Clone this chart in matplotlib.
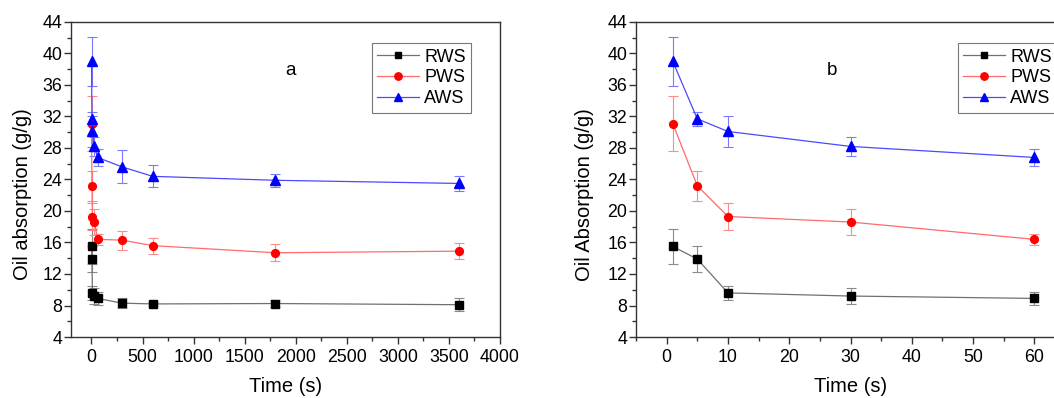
import matplotlib
matplotlib.use("Agg")
import matplotlib.pyplot as plt
from matplotlib.ticker import MultipleLocator
from matplotlib.lines import Line2D

plt.rcParams['font.family'] = ['Liberation Sans', 'DejaVu Sans']

# Data
time_a = [1, 5, 10, 30, 60, 300, 600, 1800, 3600]
rws_a = [15.5, 13.9, 9.6, 9.2, 8.9, 8.3, 8.2, 8.25, 8.1]
rws_a_err = [2.2, 1.7, 0.9, 1.0, 0.8, 0.6, 0.3, 0.5, 0.8]
pws_a = [31.1, 23.2, 19.3, 18.6, 16.4, 16.3, 15.6, 14.7, 14.9]
pws_a_err = [3.5, 1.9, 1.7, 1.6, 0.7, 1.2, 1.0, 1.1, 1.0]
aws_a = [39.0, 31.7, 30.1, 28.2, 26.8, 25.6, 24.4, 23.9, 23.5]
aws_a_err = [3.1, 0.9, 2.0, 1.2, 1.1, 2.1, 1.4, 0.8, 0.9]

time_b = [1, 5, 10, 30, 60]
rws_b = [15.5, 13.9, 9.6, 9.2, 8.9]
rws_b_err = [2.2, 1.7, 0.9, 1.0, 0.8]
pws_b = [31.1, 23.2, 19.3, 18.6, 16.4]
pws_b_err = [3.5, 1.9, 1.7, 1.6, 0.7]
aws_b = [39.0, 31.7, 30.1, 28.2, 26.8]
aws_b_err = [3.1, 0.9, 2.0, 1.2, 1.1]

series_names = ["RWS", "PWS", "AWS"]
marker_colors = ["#000000", "#ff0000", "#0000ff"]
line_colors = ["#707070", "#ff6a6a", "#4a4aff"]
err_colors = ["#8a8a8a", "#ff8a8a", "#7a7aff"]
markers = ["s", "o", "^"]
msizes = [5.3, 5.6, 6.5]

W, H = 1054, 398
fig = plt.figure(figsize=(W / 100, H / 100), dpi=100)

bottom = (H - 337) / H
height = 315 / H
ax1 = fig.add_axes([71 / W, bottom, 429 / W, height])
ax2 = fig.add_axes([636 / W, bottom, 429 / W, height])

TFS = 12.8
LFS = 14.5

def draw(ax, t, ys, errs, xlim, xmaj, xmin, ylabel, letter, letter_x, leg_x, ylab_x):
    for name, y, e, mc, lc, ec, m, ms in zip(series_names, ys, errs, marker_colors,
                                             line_colors, err_colors, markers, msizes):
        ax.errorbar(t, y, yerr=e, color=lc, ecolor=ec, elinewidth=0.8, capsize=3.8,
                    capthick=0.8, linewidth=0.9, marker=m, markersize=ms,
                    markerfacecolor=mc, markeredgecolor=mc)
    ax.set_xlim(*xlim)
    ax.set_ylim(4, 44)
    ax.xaxis.set_major_locator(MultipleLocator(xmaj))
    ax.xaxis.set_minor_locator(MultipleLocator(xmin))
    ax.yaxis.set_major_locator(MultipleLocator(4))
    ax.yaxis.set_minor_locator(MultipleLocator(2))
    ax.tick_params(which='both', direction='out', top=False, right=False,
                   labelsize=TFS, color='#333333')
    ax.tick_params(which='major', length=4.8, width=1)
    ax.tick_params(which='minor', length=3, width=1)
    ax.tick_params(axis='y', which='major', pad=1.5)
    ax.tick_params(axis='x', which='major', pad=3.5)
    for s in ax.spines.values():
        s.set_color('#333333')
        s.set_linewidth(1.0)
    ax.set_xlabel("Time (s)", fontsize=LFS)
    ax.xaxis.label.set_va('center')
    ax.xaxis.set_label_coords(0.5, -0.158)
    ax.set_ylabel(ylabel, fontsize=LFS)
    ax.yaxis.label.set_va('center')
    ax.yaxis.set_label_coords(ylab_x, 0.452)
    ax.text(letter_x, 37.9, letter, fontsize=13.5, ha='center', va='center')
    handles = [Line2D([], [], color=lc, linewidth=0.9, marker=m, markersize=ms * 0.95,
                      markerfacecolor=mc, markeredgecolor=mc)
               for lc, mc, m, ms in zip(line_colors, marker_colors, markers, msizes)]
    leg = ax.legend(handles, series_names, loc='upper left', bbox_to_anchor=(leg_x, 0.933),
                    fontsize=13, frameon=True, fancybox=False, edgecolor='#777777',
                    handlelength=2.3, handletextpad=0.3, borderpad=0.3,
                    labelspacing=0.22, borderaxespad=0, framealpha=1)
    leg.get_frame().set_linewidth(0.8)

draw(ax1, time_a, [rws_a, pws_a, aws_a], [rws_a_err, pws_a_err, aws_a_err],
     (-200, 4000), 500, 250, "Oil absorption (g/g)", "a", 1945, 0.7016, -0.114)
draw(ax2, time_b, [rws_b, pws_b, aws_b], [rws_b_err, pws_b_err, aws_b_err],
     (-5, 65), 10, 5, "Oil Absorption (g/g)", "b", 27, 0.7506, -0.119)

fig.savefig("out.png", dpi=100)
